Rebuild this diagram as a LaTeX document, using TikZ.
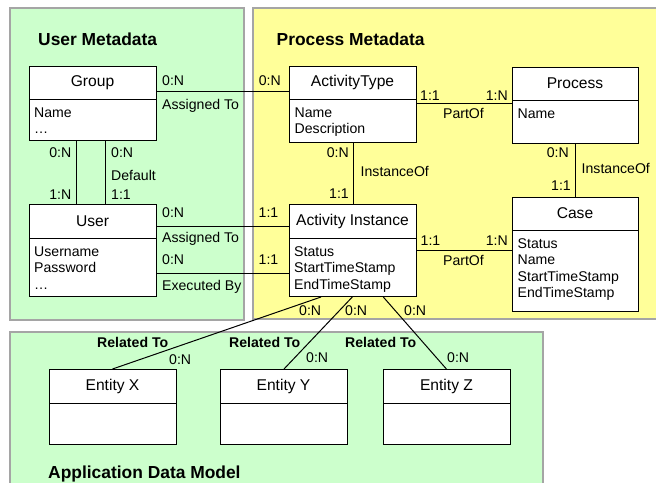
\documentclass[tikz,border=0pt]{standalone}
\usepackage{fontspec}
\setmainfont{Liberation Sans}
\definecolor{pgreen}{RGB}{204,255,204}
\definecolor{pyellow}{RGB}{255,255,153}
\definecolor{pborder}{RGB}{165,165,165}
\begin{document}
\begin{tikzpicture}[x=1pt,y=-1pt,
  panel/.style={draw=pborder,line width=1.6pt},
  ent/.style={draw,line width=1pt,fill=white,inner sep=0,anchor=north west},
  divl/.style={line width=1pt},
  conn/.style={line width=1pt},
  hdr/.style={inner sep=0,font=\fontsize{15.6}{18}\selectfont},
  attr/.style={inner sep=0,anchor=north west,align=left,font=\fontsize{14.1}{16.4}\selectfont},
  lbl/.style={inner sep=0,font=\fontsize{14.1}{16}\selectfont},
  blbl/.style={inner sep=0,font=\fontsize{14.1}{16}\selectfont\bfseries},
  ttl/.style={inner sep=0,anchor=base west,font=\fontsize{17.4}{20}\selectfont\bfseries}
]
\useasboundingbox (0,0) rectangle (656,482);
\clip (0,0) rectangle (656,482);
% panels
\filldraw[panel,fill=pgreen] (10,8) rectangle (244,320);
\filldraw[panel,fill=pyellow] (253,8) rectangle (670,319);
\filldraw[panel,fill=pgreen] (10,332) rectangle (543,500);
\node[ttl] (tUM) at (38,45) {User Metadata};
\node[ttl] (tPM) at (276.5,45) {Process Metadata};
\node[ttl] (tAD) at (48,478) {Application Data Model};

% entities
\node[ent,minimum width=127pt,minimum height=74pt] (grp) at (29,66) {};
\draw[divl] (grp.west |- 0,99) -- (grp.east |- 0,99);
\node[hdr] (grpT) at (92.5,82.5) {Group};
\node[attr] (grpA) at (34,107.5) {Name\\\ldots};

\node[ent,minimum width=127pt,minimum height=76pt] (at) at (289,66) {};
\draw[divl] (at.west |- 0,99) -- (at.east |- 0,99);
\node[hdr] (atT) at (352.5,82.5) {ActivityType};
\node[attr] (atA) at (294.5,107.5) {Name\\Description};

\node[ent,minimum width=126pt,minimum height=76pt] (pr) at (512,67) {};
\draw[divl] (pr.west |- 0,100) -- (pr.east |- 0,100);
\node[hdr] (prT) at (575,83.5) {Process};
\node[attr] (prA) at (517.5,108.5) {Name};

\node[ent,minimum width=127pt,minimum height=92pt] (usr) at (29,204) {};
\draw[divl] (usr.west |- 0,238) -- (usr.east |- 0,238);
\node[hdr] (usrT) at (92.5,221) {User};
\node[attr] (usrA) at (34,246.5) {Username\\Password\\\ldots};

\node[ent,minimum width=127pt,minimum height=92pt] (ai) at (289,204) {};
\draw[divl] (ai.west |- 0,238) -- (ai.east |- 0,238);
\node[hdr] (aiT) at (352.5,221) {Activity Instance};
\node[attr] (aiA) at (294,246.5) {Status\\StartTimeStamp\\EndTimeStamp};

\node[ent,minimum width=126pt,minimum height=114pt] (cs) at (512,197) {};
\draw[divl] (cs.west |- 0,230) -- (cs.east |- 0,230);
\node[hdr] (csT) at (575,213.5) {Case};
\node[attr] (csA) at (517.5,238.5) {Status\\Name\\StartTimeStamp\\EndTimeStamp};

\node[ent,minimum width=127pt,minimum height=75pt] (ex) at (49,369) {};
\draw[divl] (ex.west |- 0,403) -- (ex.east |- 0,403);
\node[hdr] (exT) at (112.5,386) {Entity X};

\node[ent,minimum width=127pt,minimum height=75pt] (ey) at (220,369) {};
\draw[divl] (ey.west |- 0,403) -- (ey.east |- 0,403);
\node[hdr] (eyT) at (283.5,386) {Entity Y};

\node[ent,minimum width=127pt,minimum height=75pt] (ez) at (383,369) {};
\draw[divl] (ez.west |- 0,403) -- (ez.east |- 0,403);
\node[hdr] (ezT) at (446.5,386) {Entity Z};

% connectors
\draw[conn] (grp.east |- 0,91) -- (at.west |- 0,91);
\node[lbl,anchor=base west] (l1) at (162,85) {0:N};
\node[lbl,anchor=base west] (l2) at (162,109) {Assigned To};
\node[lbl,anchor=base east] (l3) at (281,85) {0:N};

\draw[conn] (grp.south -| 76,0) -- (usr.north -| 76,0);
\draw[conn] (grp.south -| 105,0) -- (usr.north -| 105,0);
\node[lbl,anchor=base east] (l4) at (71.5,157.5) {0:N};
\node[lbl,anchor=base east] (l5) at (71.5,199) {1:N};
\node[lbl,anchor=base west] (l6) at (111,157.5) {0:N};
\node[lbl,anchor=base west] (l7) at (111,180) {Default};
\node[lbl,anchor=base west] (l8) at (111,199) {1:1};

\draw[conn] (usr.east |- 0,226) -- (ai.west |- 0,226);
\node[lbl,anchor=base west] (l9) at (162,217) {0:N};
\node[lbl,anchor=base west] (l10) at (162,242.5) {Assigned To};
\node[lbl,anchor=base east] (l11) at (278.5,217) {1:1};

\draw[conn] (usr.east |- 0,273) -- (ai.west |- 0,273);
\node[lbl,anchor=base west] (l12) at (162,264.3) {0:N};
\node[lbl,anchor=base west] (l13) at (162,290) {Executed By};
\node[lbl,anchor=base east] (l14) at (278.5,264.3) {1:1};

\draw[conn] (at.south -| 353,0) -- (ai.north -| 353,0);
\node[lbl,anchor=base east] (l15) at (349,157.5) {0:N};
\node[lbl,anchor=base west] (l16) at (360.5,176.7) {InstanceOf};
\node[lbl,anchor=base east] (l17) at (349,198.7) {1:1};

\draw[conn] (at.east |- 0,103.3) -- (pr.west |- 0,103.3);
\node[lbl,anchor=base west] (l18) at (420,100.5) {1:1};
\node[lbl,anchor=base east] (l19) at (508,100.5) {1:N};
\node[lbl,anchor=base] (l20) at (463.5,118) {PartOf};

\draw[conn] (pr.south -| 575,0) -- (cs.north -| 575,0);
\node[lbl,anchor=base east] (l21) at (569,157.5) {0:N};
\node[lbl,anchor=base west] (l22) at (581.5,173.3) {InstanceOf};
\node[lbl,anchor=base east] (l23) at (571,190) {1:1};

\draw[conn] (ai.east |- 0,250.7) -- (cs.west |- 0,250.7);
\node[lbl,anchor=base west] (l24) at (420.5,245) {1:1};
\node[lbl,anchor=base east] (l25) at (508,245) {1:N};
\node[lbl,anchor=base] (l26) at (463.5,265) {PartOf};

\draw[conn] (ai.south -| 321,0) -- (ex.north -| 112.5,0);
\draw[conn] (ai.south -| 352.3,0) -- (ey.north -| 284,0);
\draw[conn] (ai.south -| 383.3,0) -- (ez.north -| 446.4,0);
\node[lbl,anchor=base west] (l27) at (299,315.7) {0:N};
\node[lbl,anchor=base west] (l28) at (345,315.7) {0:N};
\node[lbl,anchor=base west] (l29) at (404,315.7) {0:N};
\node[blbl,anchor=base west] (l30) at (97,347.3) {Related To};
\node[blbl,anchor=base west] (l31) at (229,347.3) {Related To};
\node[blbl,anchor=base west] (l32) at (345,347.3) {Related To};
\node[lbl,anchor=base west] (l33) at (169,364.3) {0:N};
\node[lbl,anchor=base west] (l34) at (306,362) {0:N};
\node[lbl,anchor=base west] (l35) at (447,362) {0:N};
\end{tikzpicture}
\end{document}
